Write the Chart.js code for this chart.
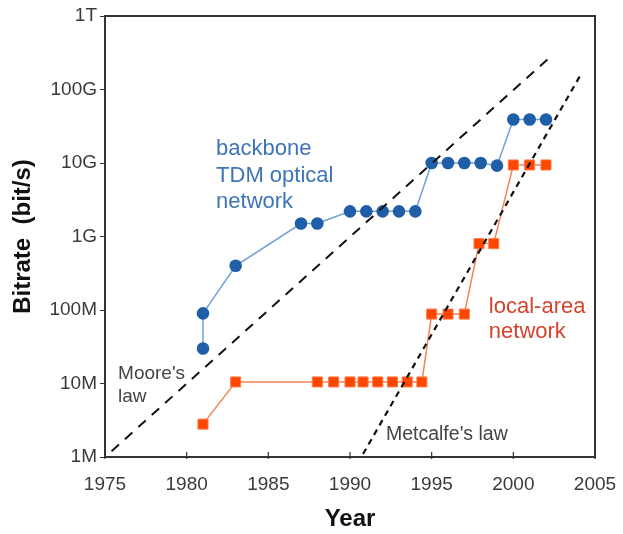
<!DOCTYPE html>
<html>
<head>
<meta charset="utf-8">
<script src="https://cdn.jsdelivr.net/npm/chart.js@4"></script>
<style>
  html, body { margin: 0; padding: 0; background: #fff; }
  #wrap { width: 623px; height: 534px; }
</style>
</head>
<body>
<div id="wrap"><canvas id="bitrateChart"></canvas></div>
<script>
// values
const backboneYears = [1981, 1981, 1983, 1987, 1988, 1990, 1991, 1992, 1993, 1994, 1995, 1996, 1997, 1998, 1999, 2000, 2001, 2002];
const backboneRates = [3e7, 9e7, 4e8, 1.5e9, 1.5e9, 2.2e9, 2.2e9, 2.2e9, 2.2e9, 2.2e9, 1e10, 1e10, 1e10, 1e10, 9.2e9, 3.9e10, 3.9e10, 3.9e10];

const lanYears = [1981, 1983, 1988, 1989, 1990, 1990.8, 1991.7, 1992.6, 1993.5, 1994.4, 1995, 1996, 1997, 1997.9, 1998.8, 2000, 2001, 2002];
const lanRates = [2.8e6, 1.05e7, 1.05e7, 1.05e7, 1.05e7, 1.05e7, 1.05e7, 1.05e7, 1.05e7, 1.05e7, 8.8e7, 8.8e7, 8.8e7, 8e8, 8e8, 9.4e9, 9.4e9, 9.4e9];

const mooreYears = [1975.4, 2002.2];
const mooreRates = [1.2e6, 2.7e11];
const metcalfeYears = [1990.8, 2004.2];
const metcalfeRates = [1.1e6, 1.7e11];

const yTickValues = [1e6, 1e7, 1e8, 1e9, 1e10, 1e11, 1e12];
const yTickLabels = ['1M', '10M', '100M', '1G', '10G', '100G', '1T'];

const pairs = (xs, ys) => xs.map((x, i) => ({ x: x, y: ys[i] }));

// text labels, anchored in data units (year, bit/s)
const notes = [
    { lines: ['backbone', 'TDM optical', 'network'], year: 1981.8, rate: 1.28e10, color: '#3d74b8', size: 22, gap: 26.5 },
    { lines: ['local-area', 'network'], year: 1998.5, rate: 9.1e7, color: '#d4442c', size: 22, gap: 25 },
    { lines: ["Moore's", 'law'], year: 1975.8, rate: 1.15e7, color: '#444', size: 19, gap: 23 },
    { lines: ["Metcalfe's law"], year: 1992.2, rate: 1.7e6, color: '#444', size: 19.5, gap: 23 }
];

const framePlugin = {
    id: 'frame',
    afterDraw(chart) {
        const { ctx, chartArea, scales } = chart;
        ctx.save();
        ctx.strokeStyle = '#333';
        ctx.lineWidth = 2;
        ctx.strokeRect(chartArea.left, chartArea.top, chartArea.right - chartArea.left, chartArea.bottom - chartArea.top);
        // inward ticks on the year axis
        ctx.lineWidth = 1.2;
        scales.x.ticks.forEach(t => {
            const px = scales.x.getPixelForValue(t.value);
            ctx.beginPath();
            ctx.moveTo(px, chartArea.bottom + 2);
            ctx.lineTo(px, chartArea.bottom - 5);
            ctx.stroke();
        });
        notes.forEach(n => {
            ctx.font = n.size + 'px "Liberation Sans", Arial, sans-serif';
            ctx.fillStyle = n.color;
            ctx.textBaseline = 'alphabetic';
            const px = scales.x.getPixelForValue(n.year);
            const py = scales.y.getPixelForValue(n.rate);
            n.lines.forEach((t, i) => ctx.fillText(t, px, py + i * n.gap));
        });
        ctx.restore();
    }
};

const ctx = document.getElementById('bitrateChart');
new Chart(ctx, {
    type: 'scatter',
    data: {
        datasets: [
            {
                label: "Moore's law",
                data: pairs(mooreYears, mooreRates),
                showLine: true,
                borderColor: '#111',
                borderWidth: 2,
                borderDash: [10, 8],
                pointRadius: 0
            },
            {
                label: "Metcalfe's law",
                data: pairs(metcalfeYears, metcalfeRates),
                showLine: true,
                borderColor: '#111',
                borderWidth: 2.2,
                borderDash: [6, 5],
                pointRadius: 0
            },
            {
                label: 'backbone TDM optical network',
                data: pairs(backboneYears, backboneRates),
                showLine: true,
                borderColor: '#6ea1da',
                borderWidth: 1.5,
                pointStyle: 'circle',
                pointRadius: 6.3,
                pointBackgroundColor: '#1f5fa8',
                pointBorderColor: '#1f5fa8',
                pointBorderWidth: 0
            },
            {
                label: 'local-area network',
                data: pairs(lanYears, lanRates),
                showLine: true,
                borderColor: '#f4845a',
                borderWidth: 1.5,
                pointStyle: 'rect',
                pointRadius: 7.1,
                pointBackgroundColor: '#ff4600',
                pointBorderColor: '#ff7a45',
                pointBorderWidth: 1
            }
        ]
    },
    options: {
        responsive: true,
        maintainAspectRatio: false,
        animation: false,
        layout: { padding: { left: 0, right: 28, top: 16, bottom: 0 } },
        plugins: {
            legend: { display: false },
            tooltip: { enabled: false }
        },
        scales: {
            x: {
                type: 'linear',
                min: 1975,
                max: 2005,
                afterFit: (scale) => {
                    scale.height = 77;
                    scale.paddingLeft = 0;
                    scale.paddingRight = 0;
                },
                border: { display: true, color: '#333', width: 2 },
                grid: { drawOnChartArea: false, drawTicks: false },
                ticks: {
                    stepSize: 5,
                    padding: 16,
                    color: '#3a3a3a',
                    font: { family: '"Liberation Sans", Arial, sans-serif', size: 19 },
                    callback: (v) => String(v)
                },
                title: {
                    display: true,
                    text: 'Year',
                    color: '#111',
                    padding: { top: 0, bottom: 0 },
                    font: { family: '"Liberation Sans", Arial, sans-serif', size: 24, weight: 'bold' }
                }
            },
            y: {
                type: 'logarithmic',
                min: 1e6,
                max: 1e12,
                afterFit: (scale) => { scale.width = 105; },
                afterBuildTicks: (scale) => { scale.ticks = yTickValues.map(v => ({ value: v })); },
                border: { display: true, color: '#333', width: 2 },
                grid: { drawOnChartArea: false, drawTicks: true, tickLength: 5, color: '#333' },
                ticks: {
                    padding: 3,
                    color: '#3a3a3a',
                    font: { family: '"Liberation Sans", Arial, sans-serif', size: 19 },
                    callback: (v) => yTickLabels[yTickValues.indexOf(v)]
                },
                title: {
                    display: true,
                    text: 'Bitrate  (bit/s)',
                    color: '#111',
                    padding: { top: 9, bottom: 0 },
                    font: { family: '"Liberation Sans", Arial, sans-serif', size: 24, weight: 'bold' }
                }
            }
        }
    },
    plugins: [framePlugin]
});
</script>
</body>
</html>
